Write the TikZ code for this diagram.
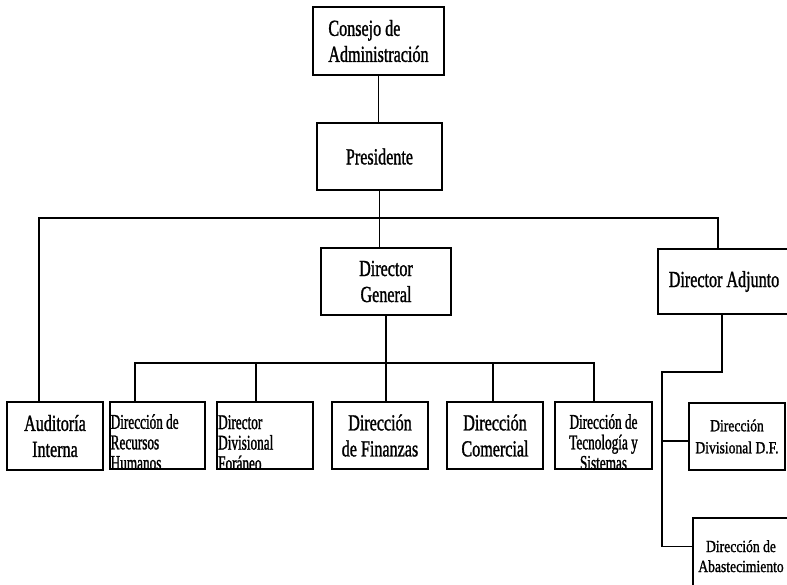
\documentclass[tikz,border=0pt]{standalone}
\usepackage{fontspec}
\setmainfont{Liberation Serif}[FakeStretch=0.70, FakeBold=1.2]
\newfontfamily\narrowfont{Liberation Serif}[FakeStretch=0.63, FakeBold=1.2]
\newfontfamily\smallfont{Liberation Serif}[FakeStretch=0.80, FakeBold=1.2]

\begin{document}
\begin{tikzpicture}[x=1pt,y=-1pt,
  box/.style={draw, line width=1.3pt, inner sep=0pt, align=center},
  link/.style={line width=1.3pt},
  big/.style={font=\fontsize{23}{26}\selectfont},
  mid/.style={font=\narrowfont\fontsize{21}{20.5}\selectfont},
  small/.style={font=\smallfont\fontsize{17}{22}\selectfont},
  label/.style={inner sep=0pt}]
\clip (0,0) rectangle (787,584);

% top of the hierarchy
\node[box, big, align=left, minimum width=131pt, minimum height=68pt] (consejo) at (378.5,41) {Consejo de\\Administración};
\node[box, big, minimum width=125pt, minimum height=67pt] (pres) at (379.5,156.5) {Presidente};
\node[box, big, minimum width=130pt, minimum height=67pt] (dg) at (386,281.5) {Director\\General};
\node[box, big, minimum width=132pt, minimum height=65pt] (adj) at (724,281.5) {Director Adjunto};

% departments under the general director
\node[box, big, minimum width=96pt, minimum height=68pt] (aud) at (55,436) {Auditoría\\Interna};
\node[box, minimum width=95pt, minimum height=67pt] (rh) at (157.5,435.5) {};
\node[box, minimum width=96pt, minimum height=67pt] (dfor) at (265,435.5) {};
\node[box, big, minimum width=96pt, minimum height=67pt] (fin) at (380,435.5) {Dirección\\de Finanzas};
\node[box, big, minimum width=96pt, minimum height=67pt] (com) at (495,435.5) {Dirección\\Comercial};
\node[box, minimum width=97pt, minimum height=67pt] (tec) at (603.5,435.5) {};

% long labels cut off by their box
\begin{scope}
  \clip (rh.north west) rectangle (rh.south east);
  \node[label, mid, align=left, anchor=north west] (rhtext) at (110.5,414) {Dirección de\\Recursos\\Humanos};
\end{scope}
\begin{scope}
  \clip (dfor.north west) rectangle (dfor.south east);
  \node[label, mid, align=left, anchor=north west] (dfortext) at (218,415) {Director\\Divisional\\Foráneo};
\end{scope}
\begin{scope}
  \clip (tec.north west) rectangle (tec.south east);
  \node[label, mid, align=center, anchor=north] (tectext) at (603.5,414) {Dirección de\\Tecnología y\\Sistemas};
\end{scope}

% departments under the deputy director
\node[box, small, minimum width=96pt, minimum height=67pt] (ddf) at (737,436.5) {Dirección\\Divisional D.F.};
\node[box, minimum width=97pt, minimum height=82pt] (abas) at (741.5,559) {};
\node[label, align=center, anchor=north, font=\smallfont\fontsize{17}{20}\selectfont] (abastext) at (741,540) {Dirección de\\Abastecimiento};

% connectors
\coordinate (bus) at (380,218);
\coordinate (dgbus) at (385,363);
\coordinate (adjbus) at (662,372);

\draw[link] (consejo.south) -- (consejo.south |- pres.north);
\draw[link] (pres.south) -- (pres.south |- dg.north);
\draw[link] ([xshift=-16pt]aud.north) |- (bus) -| ([xshift=-6pt]adj.north);

\draw[link] (dg.south) -- (dg.south |- fin.north);
\draw[link] ([xshift=-22.5pt]rh.north) |- (dgbus) -| ([xshift=-9.5pt]tec.north);
\draw[link] ([xshift=-9pt]dfor.north) -- ([xshift=-9pt]dfor.north |- dgbus);
\draw[link] ([xshift=-2pt]com.north) -- ([xshift=-2pt]com.north |- dgbus);

\draw[link] ([xshift=-2pt]adj.south) |- (adjbus) |- ([yshift=-29pt]abas.north west);
\draw[link] ([yshift=-4.5pt]ddf.west) -| (adjbus);
\end{tikzpicture}
\end{document}
